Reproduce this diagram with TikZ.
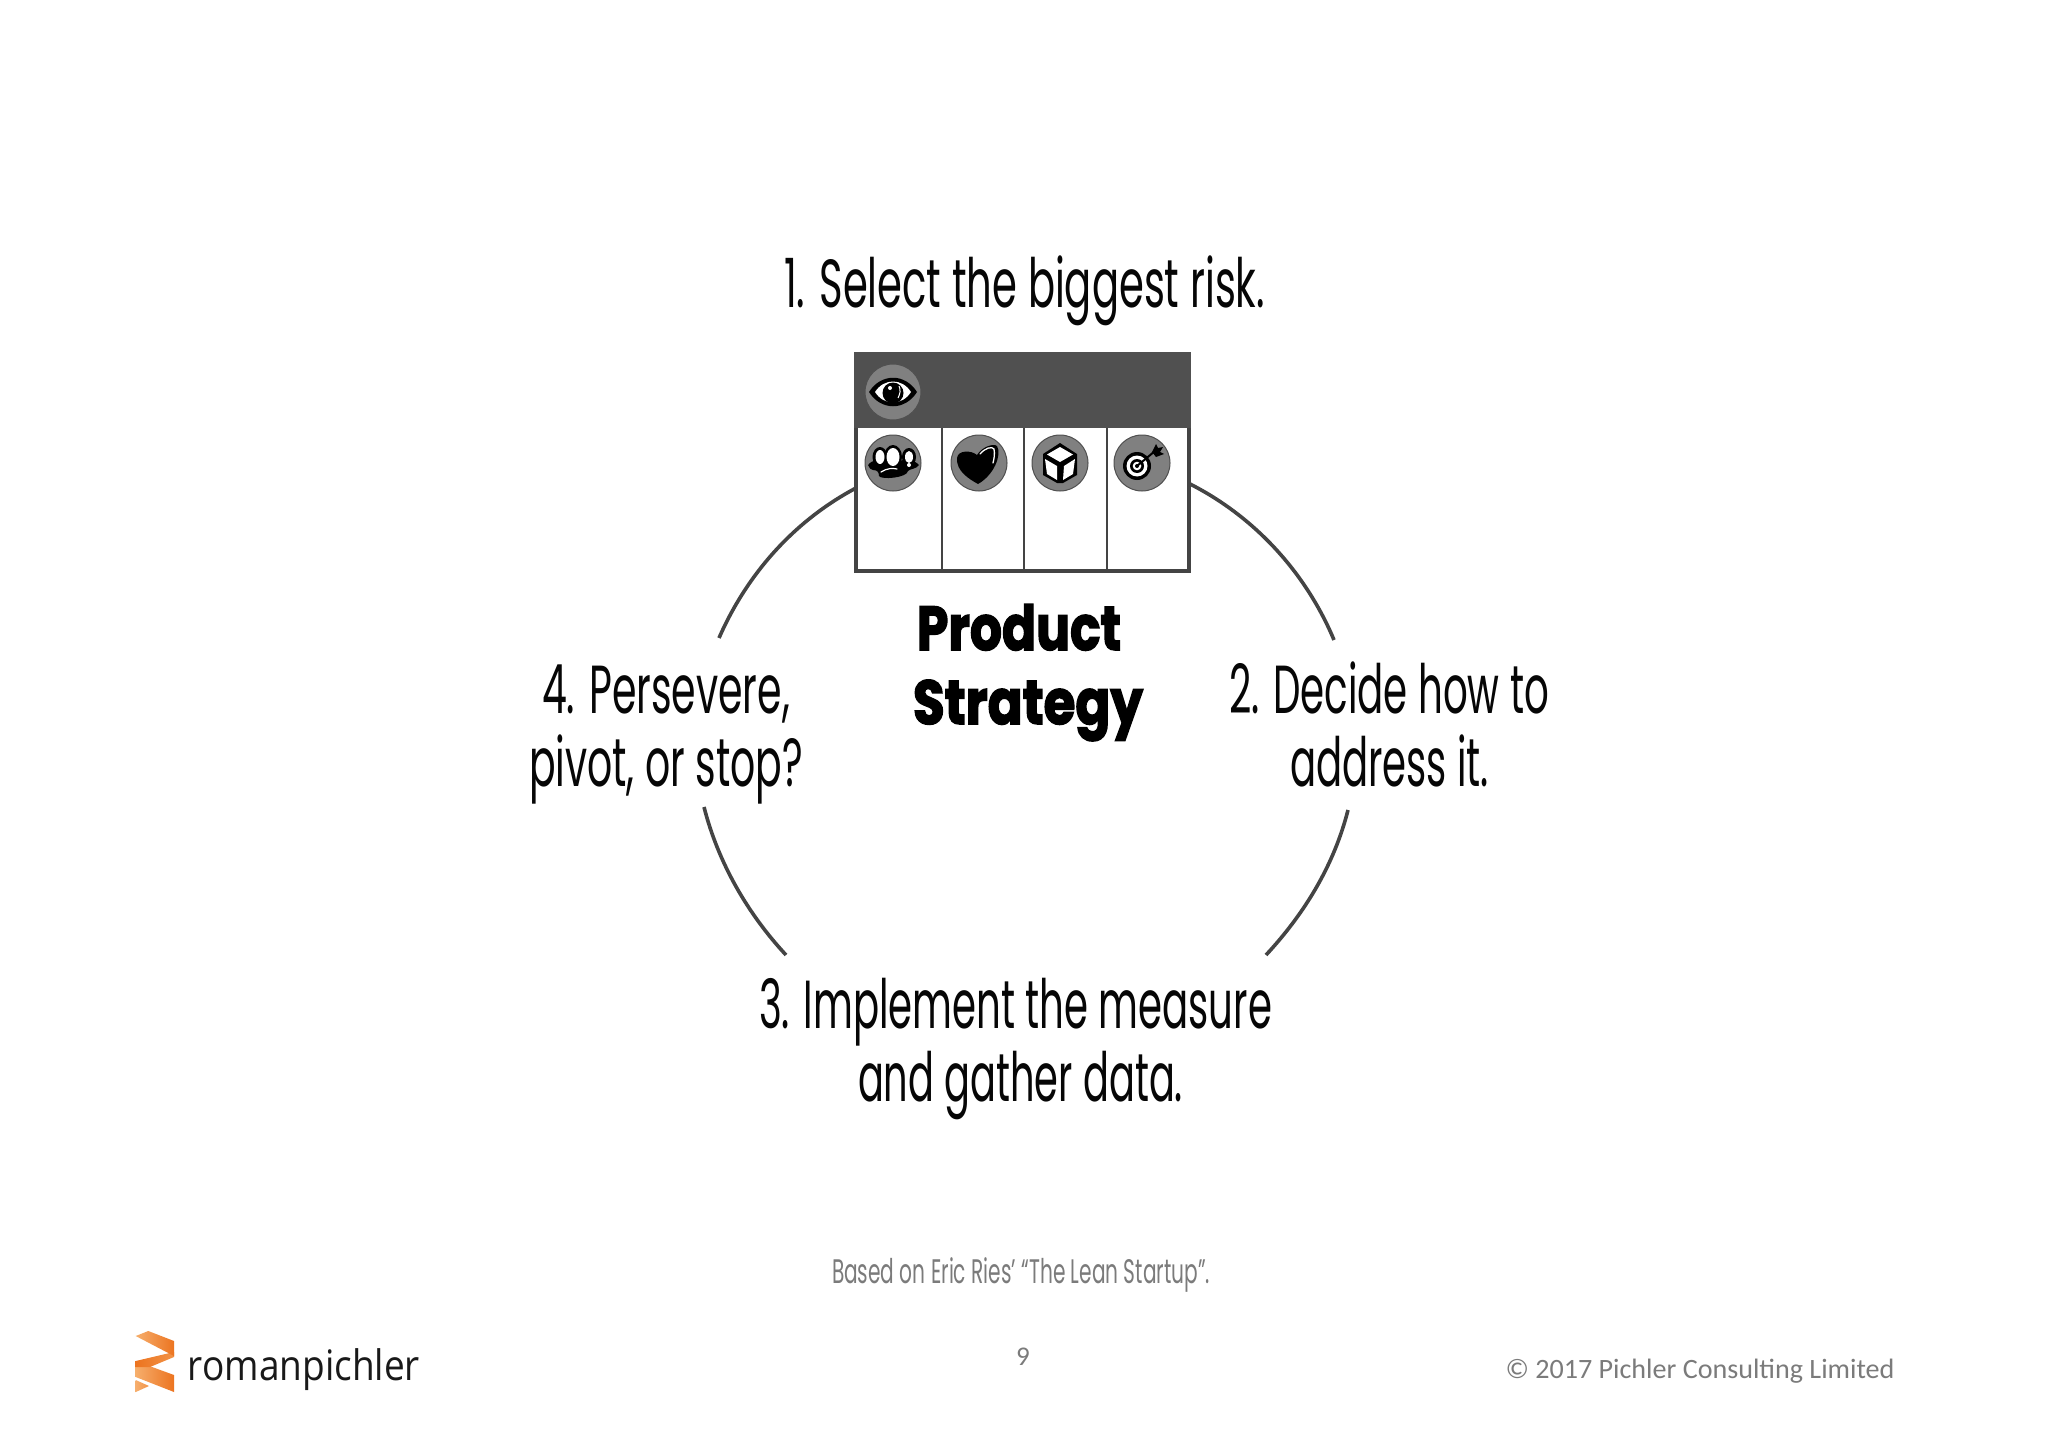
\documentclass[tikz,border=0pt]{standalone}
\usepackage{fontspec}
\usepackage{graphicx}
\setmainfont{Poppins}
\newfontfamily\carl{Carlito}
\newfontfamily\logof{Open Sans}
\newfontfamily\heavy[FakeBold=2.6]{Poppins Bold}
\definecolor{ink}{HTML}{060606}
\definecolor{linegrey}{HTML}{444444}
\definecolor{cardgrey}{HTML}{505050}
\definecolor{discgrey}{HTML}{808080}
\definecolor{softgrey}{HTML}{7B7B7B}
\definecolor{logolight}{HTML}{F6AE6C}
\definecolor{logomid}{HTML}{F29347}
\definecolor{logodark}{HTML}{EC7420}
\newcommand{\fitw}[2]{\resizebox{#1pt}{\height}{#2}}
\tikzset{
  x=1pt,y=-1pt,
  arcline/.style={draw=linegrey,line width=3.6pt},
  card/.style={draw=linegrey,line width=4pt,fill=white},
  divider/.style={draw=linegrey,line width=2.6pt},
  disc/.style={circle,draw=cardgrey,line width=1pt,fill=discgrey,minimum size=56pt,inner sep=0pt},
  big/.style={anchor=base,inner sep=0pt,text=ink,font=\fontsize{68}{68}\selectfont},
  heavytext/.style={anchor=base,inner sep=0pt,text=black,font=\heavy\fontsize{62}{62}\selectfont},
  small/.style={anchor=base,inner sep=0pt,text=softgrey},
  inkfill/.style={fill=black,draw=none},
  whitefill/.style={fill=white,draw=none},
  ribbon/.style={left color=logolight,right color=logodark,draw=none},
}
\begin{document}
\begin{tikzpicture}
\useasboundingbox (0,0) rectangle (2048,1447);
\fill[white] (0,0) rectangle (2048,1447);

% arcs
\coordinate (ula) at (856,488);
\coordinate (ulb) at (719,638);
\coordinate (ura) at (1190,484);
\coordinate (urb) at (1334,640);
\coordinate (lla) at (704,807);
\coordinate (llb) at (786,955);
\coordinate (lra) at (1348,810);
\coordinate (lrb) at (1266,955);
\draw[arcline] (ula) .. controls (794,521) and (747,574) .. (ulb);
\draw[arcline] (ura) .. controls (1255,517) and (1306,573) .. (urb);
\draw[arcline] (lla) .. controls (718,862) and (747,913) .. (llb);
\draw[arcline] (lra) .. controls (1334,865) and (1305,913) .. (lrb);

% card
\draw[card] (856,354) rectangle (1189,571);
\fill[cardgrey] (854,352) rectangle (1191,428);
\draw[divider] (942,428) -- (942,571);
\draw[divider] (1024,428) -- (1024,571);
\draw[divider] (1107,428) -- (1107,571);
\node[disc] (eye) at (893,392) {};
\node[disc] (people) at (893,463) {};
\node[disc] (heart) at (979,463) {};
\node[disc] (box) at (1060,463) {};
\node[disc] (goal) at (1142,463) {};

% eye icon
\begin{scope}[shift={(eye.center)}]
  \path[inkfill] (-24,0) .. controls (-12,-19) and (12,-19) .. (24,0) .. controls (12,19) and (-12,19) .. (-24,0) -- cycle;
  \path[whitefill] (-18,0) .. controls (-9,-14) and (9,-14) .. (18,0) .. controls (9,14) and (-9,14) .. (-18,0) -- cycle;
  \fill[black] (0,1) circle (10.5);
  \fill[white] (-3,-4) circle (2);
  \draw[white,line width=1pt] (6,-6) .. controls (8,-2) and (7,2) .. (5,6);
\end{scope}

% people icon
\begin{scope}[shift={(people.center)}]
  \path[inkfill] (-25,2) .. controls (-20,-4) and (-14,-3) .. (-10,-3) .. controls (-4,0) and (4,0) .. (10,-3) .. controls (15,-3) and (20,-4) .. (26,2) .. controls (24,6) and (16,6) .. (15,8) .. controls (14,15) and (-12,17) .. (-14,13) .. controls (-14,9) and (-16,7) .. (-20,7) .. controls (-22,7) and (-24,5) .. (-25,2) -- cycle;
  \fill[black] (-13,-6) ellipse (7.5 and 10);
  \fill[black] (16,-6) ellipse (7 and 9);
  \fill[black] (0,-6) ellipse (9 and 12);
  \fill[white] (-13,-6) ellipse (4.5 and 7);
  \fill[white] (16,-6) ellipse (4 and 6);
  \fill[white] (0,-6) ellipse (6.5 and 9);
  \draw[white,line width=1.2pt,line cap=round] (-12,9) .. controls (-6,5) and (0,5) .. (4,6);
  \fill[white] (16,2) circle (2);
\end{scope}

% heart icon
\begin{scope}[shift={(heart.center)}]
  \path[inkfill] (-1,21) .. controls (-10,16) and (-23,8) .. (-22,-5) .. controls (-21,-13) and (-8,-13) .. (-2,-8) .. controls (3,-16) and (14,-20) .. (18,-17) .. controls (23,-8) and (15,12) .. (-1,21) -- cycle;
  \draw[white,line width=1.3pt,line cap=round] (1,-9) .. controls (6,-15) and (13,-17) .. (15,-14) .. controls (16,-9) and (15,-4) .. (14,0);
\end{scope}

% box icon
\begin{scope}[shift={(box.center)}]
  \path[inkfill] (0,-20) -- (17,-9) -- (17,12) -- (3,20) -- (-3,20) -- (-17,12) -- (-17,-9) -- cycle;
  \path[whitefill] (0,-16) -- (13,-8.5) -- (0,-1) -- (-13,-8.5) -- cycle;
  \path[whitefill] (-15,-4) -- (-3,3) -- (-3,17) -- (-13,11) -- cycle;
  \path[whitefill] (15,-4) -- (4,3) -- (3,17) -- (13,11) -- cycle;
\end{scope}

% target icon
\begin{scope}[shift={(goal.center)}]
  \fill[black] (-5,3) circle (14);
  \fill[white] (-5,3) circle (10.5);
  \fill[black] (-5,3) circle (7);
  \fill[white] (-5,3) circle (4.3);
  \fill[black] (-5,3) circle (2);
  \draw[black,line width=2pt] (-5,3) -- (13,-12);
  \path[inkfill] (10,-11) -- (14,-19) -- (16,-15) -- (21,-16) -- (18,-11) -- (22,-9) -- (14,-6) -- cycle;
\end{scope}

% texts
\node[big] (t1) at (1024.5,308) {\fitw{481}{1. Select the biggest risk.}};
\node[big] (t2a) at (1389,713) {\fitw{320}{2. Decide how to}};
\node[big] (t2b) at (1389.5,786) {\fitw{199}{address it.}};
\node[big] (t3a) at (1015.5,1028) {\fitw{513}{3. Implement the measure}};
\node[big] (t3b) at (1020.5,1101) {\fitw{325}{and gather data.}};
\node[big] (t4a) at (666,713) {\fitw{248}{4. Persevere,}};
\node[big] (t4b) at (666,786) {\fitw{274}{pivot, or stop?}};
\node[heavytext] (ps1) at (1019,650) {\fitw{204}{Product}};
\node[heavytext] (ps2) at (1028,724) {\fitw{230}{Strategy}};
\node[small,font=\fontsize{34}{34}\selectfont] (src) at (1021,1283) {\fitw{378}{Based on Eric Ries’ “The Lean Startup”.}};
\node[small,font=\carl\fontsize{27}{27}\selectfont] (pg) at (1023,1365) {9};
\node[small,font=\carl\fontsize{28}{28}\selectfont] (copy) at (1700,1378) {\fitw{389}{© 2017 Pichler Consulting Limited}};

% logo
\path[ribbon] (135.7,1361) -- (174,1375) -- (174,1392) -- (135.7,1377) -- cycle;
\path[ribbon,left color=logolight,right color=logomid] (135.7,1380) -- (149,1386) -- (135.7,1392) -- cycle;
\path[ribbon,left color=logodark,right color=logomid] (174,1352) -- (174,1357) -- (150,1367) -- (135.7,1367) -- (135.7,1361) -- cycle;
\path[ribbon] (135.7,1336) -- (148.3,1331) -- (174,1341) -- (174,1356) -- cycle;
\node[anchor=base,inner sep=0pt,text=black!90,font=\logof\fontsize{42}{42}\selectfont] (logo) at (304,1380) {\fitw{232}{romanpichler}};
\end{tikzpicture}
\end{document}
